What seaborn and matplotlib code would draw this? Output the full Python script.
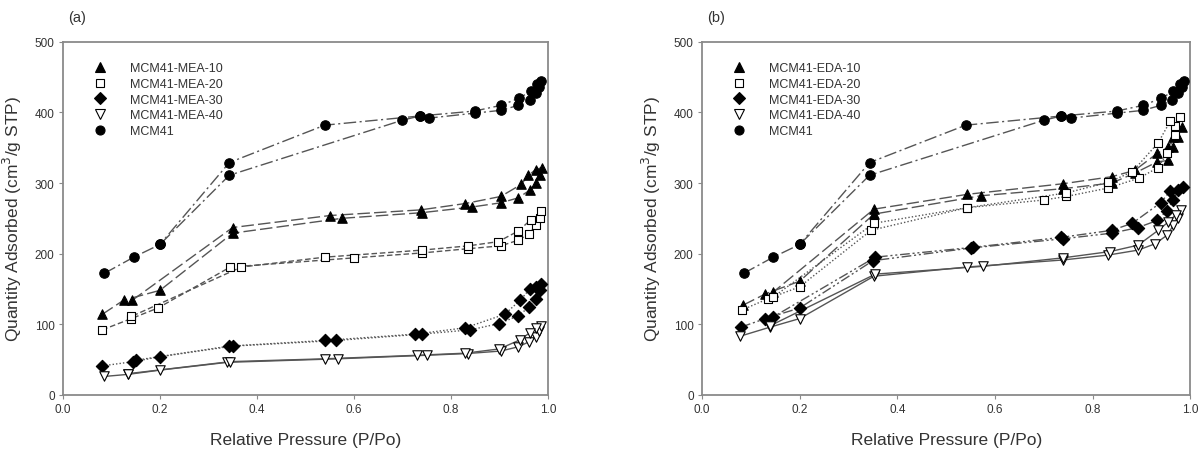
import numpy as np
import pandas as pd
import matplotlib
matplotlib.use("Agg")
import matplotlib.pyplot as plt
import seaborn as sns
from matplotlib.lines import Line2D

# --- data: adsorption branch, then desorption branch ---
mcm41_ads_p = [0.085, 0.146, 0.200, 0.343, 0.700, 0.736, 0.755, 0.849, 0.903, 0.939, 0.963, 0.975, 0.982]
mcm41_ads_q = [172, 195, 213, 311, 389, 395, 392, 399, 403, 410, 417, 428, 436]
mcm41_des_p = [0.986, 0.978, 0.965, 0.940, 0.903, 0.849, 0.736, 0.540, 0.343, 0.200]
mcm41_des_q = [445, 440, 430, 420, 410, 402, 395, 382, 329, 213]

mea10_ads_p = [0.081, 0.125, 0.200, 0.350, 0.575, 0.740, 0.843, 0.903, 0.939, 0.963, 0.975, 0.983]
mea10_ads_q = [114, 134, 148, 229, 250, 258, 266, 272, 279, 290, 300, 312]
mea10_des_p = [0.988, 0.975, 0.960, 0.945, 0.903, 0.830, 0.738, 0.551, 0.350, 0.143]
mea10_des_q = [322, 319, 311, 298, 281, 271, 262, 254, 237, 134]

mea20_ads_p = [0.081, 0.141, 0.196, 0.345, 0.600, 0.741, 0.836, 0.903, 0.939, 0.961, 0.975, 0.984]
mea20_ads_q = [92, 108, 123, 181, 194, 201, 207, 211, 219, 228, 240, 250]
mea20_des_p = [0.987, 0.965, 0.939, 0.898, 0.836, 0.741, 0.540, 0.368, 0.141]
mea20_des_q = [260, 248, 232, 217, 211, 205, 195, 181, 111]

mea30_ads_p = [0.081, 0.145, 0.200, 0.350, 0.564, 0.740, 0.840, 0.900, 0.939, 0.961, 0.975, 0.983]
mea30_ads_q = [41, 47, 54, 69, 77, 86, 92, 101, 112, 124, 136, 148]
mea30_des_p = [0.987, 0.975, 0.963, 0.943, 0.911, 0.830, 0.727, 0.540, 0.343, 0.150]
mea30_des_q = [157, 153, 150, 134, 114, 95, 86, 77, 69, 49]

mea40_ads_p = [0.085, 0.135, 0.200, 0.339, 0.567, 0.750, 0.835, 0.903, 0.939, 0.961, 0.975, 0.982]
mea40_ads_q = [26, 29, 35, 46, 51, 56, 58.5, 62, 68, 75, 82, 90]
mea40_des_p = [0.987, 0.975, 0.963, 0.943, 0.900, 0.830, 0.730, 0.540, 0.345, 0.135]
mea40_des_q = [98, 94, 88, 78, 65, 59, 56, 51, 47, 30]

eda10_ads_p = [0.084, 0.130, 0.200, 0.352, 0.571, 0.739, 0.839, 0.886, 0.932, 0.955, 0.965, 0.975]
eda10_ads_q = [127, 143, 161, 256, 282, 292, 300, 314, 330, 332, 351, 365]
eda10_des_p = [0.982, 0.965, 0.955, 0.932, 0.886, 0.839, 0.739, 0.543, 0.352, 0.145]
eda10_des_q = [379, 365, 351, 342, 318, 309, 299, 284, 263, 145]

eda20_ads_p = [0.081, 0.135, 0.200, 0.346, 0.542, 0.700, 0.746, 0.832, 0.895, 0.934, 0.952, 0.969]
eda20_ads_q = [120, 136, 153, 233, 265, 276, 281, 293, 307, 322, 342, 368]
eda20_des_p = [0.978, 0.969, 0.959, 0.934, 0.881, 0.832, 0.746, 0.542, 0.352, 0.145]
eda20_des_q = [394, 381, 388, 357, 316, 301, 286, 265, 243, 138]

eda30_ads_p = [0.080, 0.130, 0.200, 0.350, 0.551, 0.739, 0.839, 0.893, 0.932, 0.952, 0.965, 0.975]
eda30_ads_q = [96, 108, 123, 190, 208, 221, 229, 237, 247, 261, 276, 290]
eda30_des_p = [0.985, 0.959, 0.939, 0.881, 0.839, 0.735, 0.555, 0.355, 0.145]
eda30_des_q = [295, 289, 272, 243, 233, 223, 209, 195, 110]

eda40_ads_p = [0.078, 0.140, 0.200, 0.352, 0.542, 0.739, 0.832, 0.893, 0.928, 0.952, 0.965, 0.975]
eda40_ads_q = [83, 96, 108, 168, 181, 191, 198, 205, 214, 226, 240, 250]
eda40_des_p = [0.980, 0.970, 0.955, 0.934, 0.893, 0.836, 0.739, 0.575, 0.355, 0.140]
eda40_des_q = [262, 255, 245, 233, 212, 203, 194, 182, 171, 98]

x_ticks = [0.0, 0.2, 0.4, 0.6, 0.8, 1.0]
y_ticks = [0, 100, 200, 300, 400, 500]

# marker styles: (marker, filled)
TRI = ("^", True)
SQR = ("s", False)
DIA = ("D", True)
VTRI = ("v", False)
CIRC = ("o", True)

LONG_DASH = (0, (9, 3))
SHORT_DASH = (0, (4, 2))
DOTTED = (0, (1, 1.5))
DASH_DOT = (0, (9, 2.5, 1.5, 2.5))
DASH_DOT_DOT = (0, (7, 2, 1.5, 2, 1.5, 2))
SOLID = "-"

panel_a = [
    ("MCM41-MEA-10", mea10_ads_p, mea10_ads_q, mea10_des_p, mea10_des_q, TRI, LONG_DASH),
    ("MCM41-MEA-20", mea20_ads_p, mea20_ads_q, mea20_des_p, mea20_des_q, SQR, SHORT_DASH),
    ("MCM41-MEA-30", mea30_ads_p, mea30_ads_q, mea30_des_p, mea30_des_q, DIA, DOTTED),
    ("MCM41-MEA-40", mea40_ads_p, mea40_ads_q, mea40_des_p, mea40_des_q, VTRI, SOLID),
    ("MCM41", mcm41_ads_p, mcm41_ads_q, mcm41_des_p, mcm41_des_q, CIRC, DASH_DOT),
]
panel_b = [
    ("MCM41-EDA-10", eda10_ads_p, eda10_ads_q, eda10_des_p, eda10_des_q, TRI, LONG_DASH),
    ("MCM41-EDA-20", eda20_ads_p, eda20_ads_q, eda20_des_p, eda20_des_q, SQR, DOTTED),
    ("MCM41-EDA-30", eda30_ads_p, eda30_ads_q, eda30_des_p, eda30_des_q, DIA, DASH_DOT_DOT),
    ("MCM41-EDA-40", eda40_ads_p, eda40_ads_q, eda40_des_p, eda40_des_q, VTRI, SOLID),
    ("MCM41", mcm41_ads_p, mcm41_ads_q, mcm41_des_p, mcm41_des_q, CIRC, DASH_DOT),
]

sns.set_theme(style="white")
plt.rcParams["font.family"] = ["Liberation Sans", "DejaVu Sans"]

TEXT = "#333333"
LINE = "#555555"
SPINE = "#8a8a8a"


def draw_panel(ax, series, tag):
    handles = []
    for name, ads_p, ads_q, des_p, des_q, (mk, filled), ls in series:
        face = "black" if filled else "white"
        msize = 6.5 if mk in ("^", "v", "o") else 5.5
        if mk == "D":
            msize = 6
        for p, q in ((ads_p, ads_q), (des_p, des_q)):
            df = pd.DataFrame({"p": p, "q": q})
            sns.lineplot(data=df, x="p", y="q", ax=ax, sort=False, estimator=None,
                         color=LINE, linewidth=1.0, linestyle=ls, zorder=2)
            sns.scatterplot(data=df, x="p", y="q", ax=ax, marker=mk, s=msize ** 2 * 1.1,
                            color=face, edgecolor="black", linewidth=0.8, zorder=3)
        handles.append(Line2D([], [], linestyle="none", marker=mk, markersize=msize,
                              markerfacecolor=face, markeredgecolor="black",
                              markeredgewidth=0.8, label=name))

    ax.set_xlim(0, 1.0)
    ax.set_ylim(0, 500)
    ax.set_xticks(x_ticks)
    ax.set_xticklabels([f"{t:.1f}" for t in x_ticks])
    ax.set_yticks(y_ticks)
    ax.tick_params(axis="both", direction="out", length=3, width=0.8, color=SPINE,
                   labelsize=8.5, labelcolor=TEXT, pad=3, bottom=True, left=True)
    for sp in ax.spines.values():
        sp.set_color(SPINE)
        sp.set_linewidth(1.3)
    ax.set_xlabel("Relative Pressure (P/Po)", fontsize=12.5, color=TEXT, labelpad=12)
    ax.set_ylabel("Quantity Adsorbed (cm$^3$/g STP)", fontsize=12.5, color=TEXT, labelpad=8)
    ax.text(0.01, 1.05, tag, transform=ax.transAxes, fontsize=10.5, color=TEXT,
            ha="left", va="bottom")
    leg = ax.legend(handles=handles, loc="upper left", frameon=False, fontsize=9,
                    handletextpad=1.4, labelspacing=0.3, borderaxespad=0.8,
                    bbox_to_anchor=(0.02, 0.985))
    for t in leg.get_texts():
        t.set_color(TEXT)


fig = plt.figure(figsize=(12, 4.56), dpi=100)
ax_a = fig.add_axes([0.0525, 0.132, 0.404, 0.774])
ax_b = fig.add_axes([0.585, 0.132, 0.407, 0.774])

draw_panel(ax_a, panel_a, "(a)")
draw_panel(ax_b, panel_b, "(b)")

fig.savefig("out.png", dpi=100)
